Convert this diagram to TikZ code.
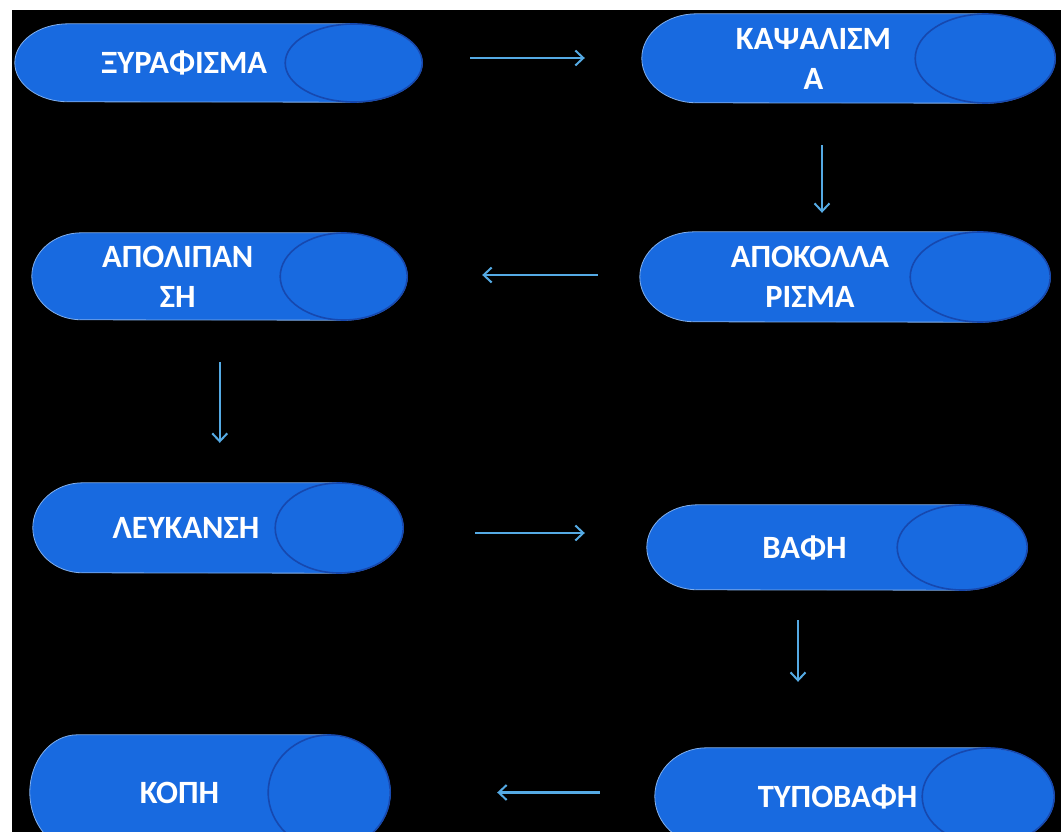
\documentclass[tikz,border=0pt]{standalone}
\usepackage{fontspec}
\setmainfont{Carlito}
\usetikzlibrary{arrows.meta,calc}
\pgfdeclarelayer{bg}
\pgfdeclarelayer{shapes}
\pgfsetlayers{bg,shapes,main}
\definecolor{bodyblue}{RGB}{24,106,224}
\definecolor{faceline}{RGB}{22,72,175}
\definecolor{rimline}{RGB}{130,175,235}
\definecolor{arrowblue}{RGB}{85,170,228}
\tikzset{
  stagetext/.style={rectangle, inner sep=0pt, align=center, text=white,
    font=\fontsize{32.5}{40}\selectfont\bfseries},
  stagebody/.style={fill=bodyblue, draw=rimline, line width=0.8pt},
  stageface/.style={draw=faceline, line width=1.6pt},
  flow/.style={draw=arrowblue, line width=2.2pt, -{Straight Barb[length=8pt,width=15pt,line width=2pt]}}
}
\newcommand\stage[7]{%
  \pgfmathsetmacro\cxx{#3-#6}%
  \pgfmathsetmacro\ryy{(#5-#4)/2}%
  \pgfmathsetmacro\mxx{(#2+\cxx)/2}%
  \pgfmathsetmacro\myy{(#4+#5)/2}%
  \pgfmathsetmacro\wdd{\cxx-#2}%
  \pgfmathsetmacro\htt{#5-#4}%
  \pgfmathsetmacro\rll{0.78*#6}%
  \node[stagetext, minimum width=\wdd pt, minimum height=\htt pt] (#1) at (\mxx,\myy) {#7};
  \begin{pgfonlayer}{shapes}
    \path[stagebody] (#1.north east) -- ([xshift=\rll pt]#1.north west)
      arc[start angle=90, end angle=270, x radius=\rll pt, y radius=\ryy pt]
      -- (#1.south east)
      arc[start angle=-90, end angle=90, x radius=#6 pt, y radius=\ryy pt] -- cycle;
    \draw[stageface] (#1.east) ellipse[x radius=#6 pt, y radius=\ryy pt];
  \end{pgfonlayer}
}
\begin{document}
\begin{tikzpicture}[x=1pt, y=-1pt]
\useasboundingbox (0,0) rectangle (1063,832);
\clip (0,0) rectangle (1063,832);
\begin{pgfonlayer}{bg}
  \fill[white] (0,0) rectangle (1063,832);
  \fill[black] (12,10) rectangle (1061,840);
\end{pgfonlayer}

\stage{xy}{15}{422}{24}{102}{68.5}{ΞΥΡΑΦΙΣΜΑ}
\stage{kap}{642}{1055}{14}{103}{70}{ΚΑΨΑΛΙΣΜ\\Α}
\stage{apol}{32}{407}{233}{320}{63.5}{ΑΠΟΛΙΠΑΝ\hspace*{20pt}\\ΣΗ\hspace*{20pt}}
\stage{apok}{640}{1050}{232}{322}{70}{ΑΠΟΚΟΛΛΑ\\ΡΙΣΜΑ}
\stage{lefk}{33}{403}{483}{573}{64}{ΛΕΥΚΑΝΣΗ}
\stage{vafi}{647}{1027}{505}{590}{65}{ΒΑΦΗ}
\stage{kopi}{30}{390}{735}{850}{61}{ΚΟΠΗ}
\stage{typo}{655}{1054}{748}{845}{66}{\hspace*{32pt}ΤΥΠΟΒΑΦΗ}

\draw[flow, shorten <=116.5pt, shorten >=57pt] ([yshift=5pt]xy.east) -- ([yshift=5pt]xy.east -| kap.west);
\draw[flow, shorten <=42pt, shorten >=19pt] ([xshift=8.5pt]kap.south) -- ([xshift=8.5pt]kap.south |- apok.north);
\draw[flow, shorten <=42pt, shorten >=138.5pt] ([yshift=2pt]apok.west) -- ([yshift=2pt]apok.west -| apol.east);
\draw[flow, shorten <=42pt, shorten >=40pt] ([xshift=32pt]apol.south) -- ([xshift=32pt]apol.south |- lefk.north);
\draw[flow, shorten <=136pt, shorten >=62pt] ([yshift=-5pt]lefk.east) -- ([yshift=-5pt]lefk.east -| vafi.west);
\draw[flow, shorten <=30pt, shorten >=66pt] ([xshift=-6.5pt]vafi.south) -- ([xshift=-6.5pt]vafi.south |- typo.north);
\draw[flow, shorten <=55pt, shorten >=168pt] ([yshift=4pt]typo.west) -- ([yshift=4pt]typo.west -| kopi.east);
\end{tikzpicture}
\end{document}
